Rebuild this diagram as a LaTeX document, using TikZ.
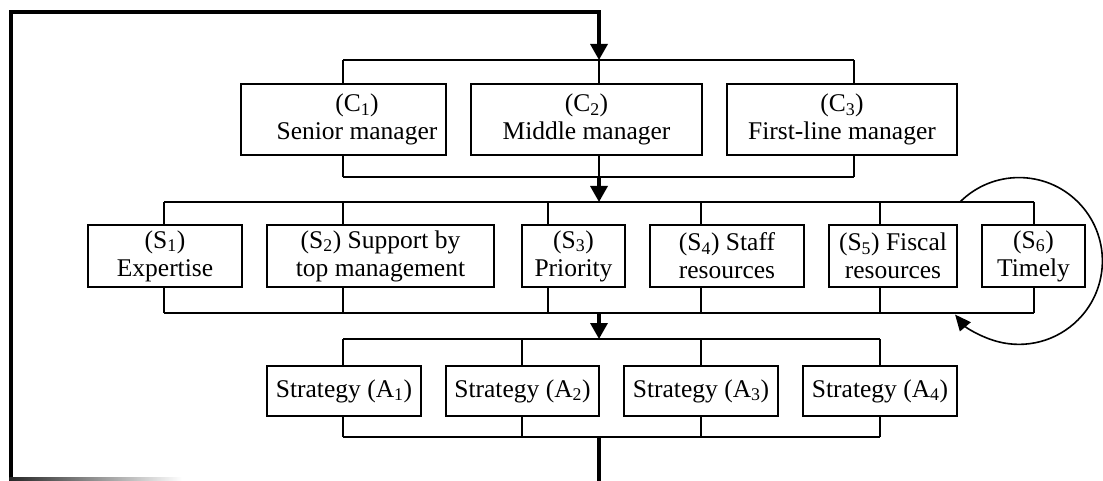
\documentclass[tikz,border=0pt]{standalone}
\usepackage{fontspec}
\setmainfont{Liberation Serif}
\usetikzlibrary{arrows.meta}
\begin{document}
\begin{tikzpicture}[x=1pt,y=-1pt,
  txt/.style={align=center, inner sep=0pt, font=\fontsize{25.5}{28}\selectfont},
  box/.style={txt, draw, line width=1.6pt},
  cbox/.style={box, minimum height=71pt},
  sbox/.style={box, minimum height=62pt},
  abox/.style={box, minimum height=50pt},
  thinline/.style={line width=1.6pt},
  heavy/.style={line width=3.4pt, line join=miter},
  tip/.style={-{Triangle[length=16pt,width=17pt]}},
  arctip/.style={-{Triangle[length=16pt,width=14pt]}}
]
\useasboundingbox (0,0) rectangle (1103,481);

% ---- C row ----
\node[cbox, minimum width=205pt] (c1) at (343.5,119.5) {};
\node[txt] (c1text) at (357,119.5) {(C\textsubscript{1})\\Senior manager};
\node[cbox, minimum width=231pt] (c2) at (586.5,119.5) {(C\textsubscript{2})\\Middle manager};
\node[cbox, minimum width=230pt] (c3) at (842,119.5) {(C\textsubscript{3})\\First-line manager};

% ---- S row ----
\node[sbox, minimum width=154pt] (s1) at (165,256) {(S\textsubscript{1})\\Expertise};
\node[sbox, minimum width=227pt] (s2) at (380.5,256) {(S\textsubscript{2}) Support by\\top management};
\node[sbox, minimum width=103pt] (s3) at (573.5,256) {(S\textsubscript{3})\\Priority};
\node[sbox, minimum width=154pt] (s4) at (727,256) {(S\textsubscript{4}) Staff\\resources};
\node[sbox, minimum width=128pt] (s5) at (893,256) {(S\textsubscript{5}) Fiscal\\resources};
\node[sbox, minimum width=103pt] (s6) at (1033.5,256) {(S\textsubscript{6})\\Timely};

% ---- A row ----
\node[abox, minimum width=154pt] (a1) at (344,391) {Strategy (A\textsubscript{1})};
\node[abox, minimum width=153pt] (a2) at (522.5,391) {Strategy (A\textsubscript{2})};
\node[abox, minimum width=154pt] (a3) at (701,391) {Strategy (A\textsubscript{3})};
\node[abox, minimum width=154pt] (a4) at (880,391) {Strategy (A\textsubscript{4})};

% ---- bracket tick coordinates ----
\foreach \n/\x in {c1/343,c2/599,c3/854}{
  \coordinate (\n t) at (\x,60);
  \coordinate (\n b) at (\x,177);
}
\foreach \n/\x in {s1/164,s2/343,s3/548,s4/701,s5/880,s6/1034}{
  \coordinate (\n t) at (\x,202);
  \coordinate (\n b) at (\x,313);
}
\foreach \n/\x in {a1/343,a2/522,a3/701,a4/880}{
  \coordinate (\n t) at (\x,339);
  \coordinate (\n b) at (\x,437);
}
\coordinate (cmidb) at (599,177);
\coordinate (smidt) at (599,202);
\coordinate (smidb) at (599,313);
\coordinate (amidt) at (599,339);
\coordinate (amidb) at (599,437);

% brackets
\draw[thinline] (c1t) -- (c3t);
\draw[thinline] (c1b) -- (c3b);
\draw[thinline] (s1t) -- (s6t);
\draw[thinline] (s1b) -- (s6b);
\draw[thinline] (a1t) -- (a4t);
\draw[thinline] (a1b) -- (a4b);

% ticks
\foreach \n in {c1,c2,c3,s1,s2,s3,s4,s5,s6,a1,a2,a3,a4}{
  \draw[thinline] (\n t) -- (\n t |- \n.north);
  \draw[thinline] (\n b) -- (\n b |- \n.south);
}

% flow arrows
\draw[heavy, tip] (cmidb) -- (smidt);
\draw[heavy, tip] (smidb) -- (amidt);

% feedback loop
\coordinate (spineEnd) at (599,482);
\coordinate (loopBL) at (11,482);
\coordinate (loopTL) at (11,12);
\coordinate (loopTR) at (599,12);
\draw[heavy] (amidb) -- (spineEnd);
\draw[heavy, tip] (loopBL) -- (loopTL) -- (loopTR) -- (c2t);
\shade[left color=black!85, right color=white] (9.3,477.5) rectangle (182,480.5);

% self loop on S row
\coordinate (arcS) at (960,202);
\draw[thinline, arctip] (arcS) arc[start angle=135, end angle=-140, radius=83.4pt];
\end{tikzpicture}
\end{document}
